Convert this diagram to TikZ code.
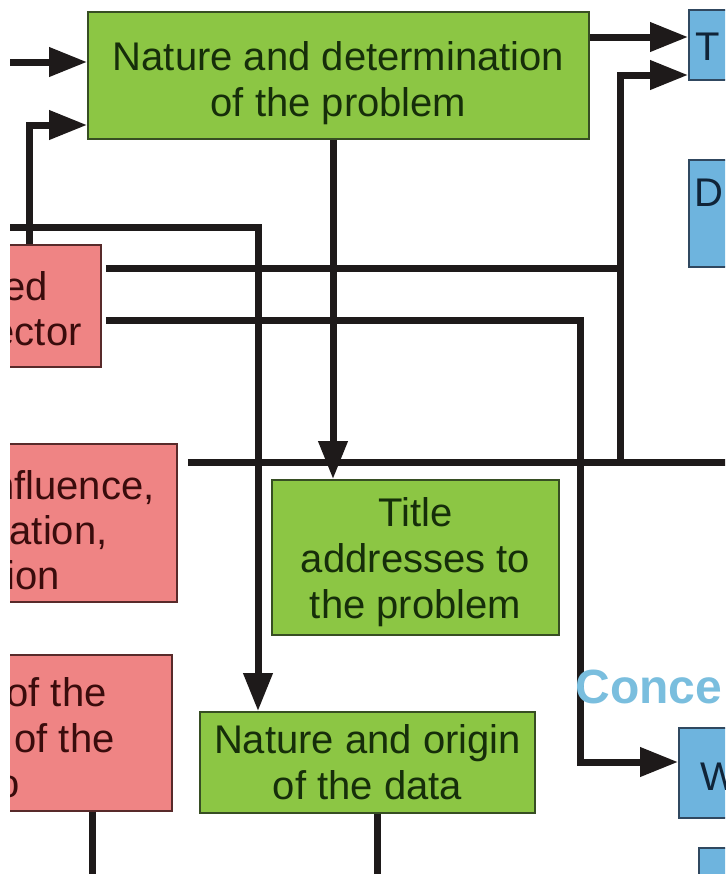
\documentclass[tikz,border=0pt]{standalone}
\usepackage{fontspec}
\setmainfont{Liberation Sans}
\usetikzlibrary{arrows.meta,fit}

\definecolor{boxgreen}{RGB}{140,198,68}
\definecolor{greenedge}{RGB}{55,78,35}
\definecolor{greentext}{RGB}{22,46,10}
\definecolor{boxpink}{RGB}{239,132,132}
\definecolor{pinkedge}{RGB}{88,42,42}
\definecolor{pinktext}{RGB}{58,12,12}
\definecolor{boxblue}{RGB}{110,180,222}
\definecolor{blueedge}{RGB}{48,72,96}
\definecolor{bluetext}{RGB}{16,36,56}
\definecolor{wirecol}{RGB}{30,26,26}
\definecolor{headblue}{RGB}{122,190,222}

\begin{document}
\begin{tikzpicture}[x=0.5pt,y=-0.5pt,
  box/.style={draw, line width=0.9pt, inner sep=0pt, align=center,
    font=\fontsize{20}{23}\selectfont},
  greenbox/.style={box, fill=boxgreen, draw=greenedge, text=greentext},
  pinkbox/.style={box, fill=boxpink, draw=pinkedge},
  bluebox/.style={box, fill=boxblue, draw=blueedge},
  greenlabel/.style={inner sep=0pt, align=center, text=greentext,
    font=\fontsize{20}{23}\selectfont},
  pinkline/.style={anchor=base east, inner sep=0pt, text=pinktext,
    font=\fontsize{20}{23}\selectfont},
  blueline/.style={anchor=base west, inner sep=0pt, text=bluetext,
    font=\fontsize{20}{23}\selectfont},
  wire/.style={draw=wirecol, line width=3.5pt},
  flow/.style={wire, -{Triangle[length=19pt,width=14pt]}},
]
\useasboundingbox (0,0) rectangle (725,874);
\clip (10,0) rectangle (725,874);

% green boxes and their texts
\node (A) [greenbox, minimum width=250.5pt, minimum height=63.5pt]
  at (338.5,75.5) {};
\node (At) [greenlabel] at (338.5,83) {Nature and determination\\of the problem};
\node (Ti) [greenbox, minimum width=143.5pt, minimum height=77.5pt]
  at (415.5,557.5) {};
\node (Tit) [greenlabel] at (415.5,562) {Title\\addresses to\\the problem};
\node (O) [greenbox, minimum width=167.5pt, minimum height=50.5pt]
  at (367.5,762.5) {Nature and origin\\of the data};

% boxes running past the edges
\node (p1) [pinkbox, fit={(-40,245) (101,367)}] {};
\node (p2) [pinkbox, fit={(-40,444) (177,602)}] {};
\node (p3) [pinkbox, fit={(-40,655) (172,811)}] {};

\node (T) [bluebox, fit={(689,10) (780,80)}] {};
\node (D) [bluebox, fit={(689,160) (780,267)}] {};
\node (W) [bluebox, fit={(679,728) (780,818)}] {};
\node (B) [bluebox, fit={(699,848) (780,920)}] {};

% texts of the partly shown boxes
\node (p1a) [pinkline] at (48,300) {ed};
\node (p1b) [pinkline] at (82,345) {ector};
\node (p2a) [pinkline] at (155,499) {nfluence,};
\node (p2b) [pinkline] at (108,544) {ation,};
\node (p2c) [pinkline] at (60,589) {ion};
\node (p3a) [pinkline] at (107,706) {of the};
\node (p3b) [pinkline] at (115,752) {of the};
\node (p3c) [pinkline] at (20,797) {o};
\node (Tt) [blueline] at (695,60) {T};
\node (Dt) [blueline] at (694,206) {D};
\node (Wt) [blueline] at (700,790) {W};

% bend points and free ends
\coordinate (inA) at (-10,62);
\coordinate (k1) at (29,125);
\coordinate (k2w) at (-10,227);
\coordinate (k2) at (258,227);
\coordinate (k3) at (333,300);
\coordinate (k4) at (620,268);
\coordinate (k5) at (620,462);
\coordinate (k5e) at (760,462);
\coordinate (k6) at (620,75);
\coordinate (k7) at (580,320);
\coordinate (k8) at (580,762);
\coordinate (k9) at (600,37);
\coordinate (k10) at (92,900);
\coordinate (k11) at (377,900);

% connectors
\draw[flow] (inA) -- (inA -| A.west);
\draw[flow] (p1.north -| k1) -- (k1) -- (k1 -| A.west);
\draw[flow] (A.east |- k9) -- (T.west |- k9);
\draw[flow] (k2w) -- (k2) -- (k2 |- O.north);
\draw[flow] (A.south -| k3) -- (k3 |- Ti.north);
\draw[wire, shorten <=2pt] (p1.east |- k4) -- (k4);
\draw[flow] (k5e) -- (k5) -- (k6) -- (k6 -| T.west);
\draw[wire, shorten <=5pt] (p2.east |- k5) -- (k5);
\draw[flow, shorten <=2pt] (p1.east |- k7) -- (k7) -- (k8) -- (k8 -| W.west);
\draw[wire] (p3.south -| k10) -- (k10);
\draw[wire] (O.south -| k11) -- (k11);

% section heading
\node (head) [anchor=base west, inner sep=0pt, text=headblue,
  font=\fontsize{24}{28}\selectfont\bfseries] at (575,703) {Conce};
\end{tikzpicture}
\end{document}
